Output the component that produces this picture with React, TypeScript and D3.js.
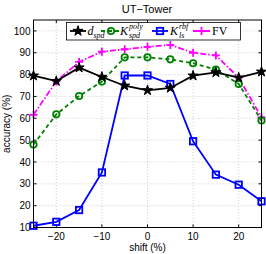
import React from "react";
import * as d3 from "d3";

const shifts = [-25, -20, -15, -10, -5, 0, 5, 10, 15, 20, 25];
const dSpd = [79.5, 77, 83.2, 78.9, 74.9, 72.8, 73.9, 79.5, 81, 78.6, 81.3];
const kPoly = [48, 61.8, 70.2, 76.8, 87.9, 87.9, 87, 85.2, 82.3, 75.7, 59];
const kRbf = [10.8, 12.6, 18, 35.2, 79.6, 79.6, 75.7, 49.5, 34.2, 29.6, 22];
const fv = [61.6, 76.9, 85.8, 90.5, 91.6, 92.7, 93.6, 90, 88.8, 78.6, 60.4];
const xTicks = [-20, -10, 0, 10, 20];
const yTicks = [10, 20, 30, 40, 50, 60, 70, 80, 90, 100];

const W = 266, H = 254;
const L = 33.5, R = 261.5, T = 20, B = 227.5;

export default function App() {
  const x = d3.scaleLinear().domain([-25, 25]).range([L, R]);
  const y = d3.scaleLinear().domain([10, 105]).range([B, T]);
  const line = d3.line<number>().x((_, i) => x(shifts[i])).y((d) => y(d));
  const star = d3.symbol().type(d3.symbolStar).size(32)() as string;
  const sans = "'Liberation Sans', Arial, sans-serif";
  const serif = "'Liberation Serif', 'Times New Roman', serif";

  const markerStar = (cx: number, cy: number, k: string) => (
    <path key={k} d={star} transform={`translate(${cx},${cy})`} fill="#000" stroke="#000" strokeWidth={1} />
  );
  const markerCircle = (cx: number, cy: number, k: string) => (
    <circle key={k} cx={cx} cy={cy} r={3.2} fill="none" stroke="#008000" strokeWidth={1.8} />
  );
  const markerSquare = (cx: number, cy: number, k: string) => (
    <rect key={k} x={cx - 3.2} y={cy - 3.2} width={6.4} height={6.4} fill="none" stroke="#0000ff" strokeWidth={1.8} />
  );
  const markerPlus = (cx: number, cy: number, k: string) => (
    <path key={k} d={`M${cx - 4},${cy}H${cx + 4}M${cx},${cy - 4}V${cy + 4}`} stroke="#ff00ff" strokeWidth={1.8} />
  );

  const series = [
    { data: kRbf, color: "#0000ff", dash: undefined, marker: markerSquare },
    { data: fv, color: "#ff00ff", dash: "6,2,1.5,2", marker: markerPlus },
    { data: kPoly, color: "#008000", dash: "4,3", marker: markerCircle },
    { data: dSpd, color: "#000", dash: undefined, marker: markerStar },
  ];

  return (
    <svg width={W} height={H} style={{ position: "absolute", left: 0, top: 0 }}>
      <rect width={W} height={H} fill="#fff" />
      <text x={147} y={13} textAnchor="middle" fontFamily={sans} fontSize={11}>UT−Tower</text>
      {xTicks.map((t) => (
        <line key={"gx" + t} x1={x(t)} x2={x(t)} y1={T} y2={B} stroke="#bbb" strokeWidth={0.7} strokeDasharray="1,2" />
      ))}
      {yTicks.map((t) => (
        <line key={"gy" + t} x1={L} x2={R} y1={y(t)} y2={y(t)} stroke="#bbb" strokeWidth={0.7} strokeDasharray="1,2" />
      ))}
      {xTicks.map((t) => (
        <g key={"tx" + t}>
          <line x1={x(t)} x2={x(t)} y1={B} y2={B - 3} stroke="#000" />
          <line x1={x(t)} x2={x(t)} y1={T} y2={T + 3} stroke="#000" />
          <text x={x(t)} y={240} textAnchor="middle" fontFamily={sans} fontSize={10}>
            {t < 0 ? "−" + Math.abs(t) : t}
          </text>
        </g>
      ))}
      {yTicks.map((t) => (
        <g key={"ty" + t}>
          <line x1={L} x2={L + 3} y1={y(t)} y2={y(t)} stroke="#000" />
          <line x1={R} x2={R - 3} y1={y(t)} y2={y(t)} stroke="#000" />
          <text x={L - 3} y={y(t) + 3.6} textAnchor="end" fontFamily={sans} fontSize={10}>{t}</text>
        </g>
      ))}
      <text x={147.5} y={250.5} textAnchor="middle" fontFamily={sans} fontSize={10}>shift (%)</text>
      <text transform={`translate(10,${(T + B) / 2}) rotate(-90)`} textAnchor="middle" fontFamily={sans} fontSize={10}>accuracy (%)</text>
      <g>
        {series.map((s, si) => (
          <g key={"s" + si}>
            <path d={line(s.data) as string} fill="none" stroke={s.color} strokeWidth={1.8} strokeDasharray={s.dash} />
            {s.data.map((v, i) => s.marker(x(shifts[i]), y(v), `m${si}-${i}`))}
          </g>
        ))}
      </g>
      <rect x={L} y={T} width={R - L} height={B - T} fill="none" stroke="#000" strokeWidth={1} />
      <g>
        <rect x={66.5} y={22.5} width={174} height={17.5} fill="#fff" stroke="#000" strokeWidth={0.8} />
        <line x1={70} x2={86} y1={31} y2={31} stroke="#000" strokeWidth={1.8} />
        {markerStar(78, 31, "ls")}
        <text x={87.5} y={35} fontFamily={serif} fontSize={12}>
          <tspan fontStyle="italic">d</tspan>
          <tspan fontStyle="italic" fontSize={8} dy={2.5}>spd</tspan>
        </text>
        <line x1={101} x2={119} y1={31} y2={31} stroke="#008000" strokeWidth={1.8} strokeDasharray="4,3" />
        {markerCircle(111, 31, "lc")}
        <text x={120} y={35} fontFamily={serif} fontSize={12}>
          <tspan fontStyle="italic">K</tspan>
        </text>
        <text x={129} y={29} fontFamily={serif} fontSize={8} fontStyle="italic">poly</text>
        <text x={129} y={38} fontFamily={serif} fontSize={8} fontStyle="italic">spd</text>
        <line x1={152} x2={168} y1={31} y2={31} stroke="#0000ff" strokeWidth={1.8} />
        {markerSquare(160, 31, "lq")}
        <text x={170} y={35} fontFamily={serif} fontSize={12}>
          <tspan fontStyle="italic">K</tspan>
        </text>
        <text x={179} y={29} fontFamily={serif} fontSize={8} fontStyle="italic">rbf</text>
        <text x={179} y={38} fontFamily={serif} fontSize={8} fontStyle="italic">ls</text>
        <line x1={193} x2={210} y1={31} y2={31} stroke="#ff00ff" strokeWidth={1.8} strokeDasharray="6,2,1.5,2" />
        {markerPlus(201.5, 31, "lp")}
        <text x={212} y={35} fontFamily={serif} fontSize={12}>FV</text>
      </g>
    </svg>
  );
}
